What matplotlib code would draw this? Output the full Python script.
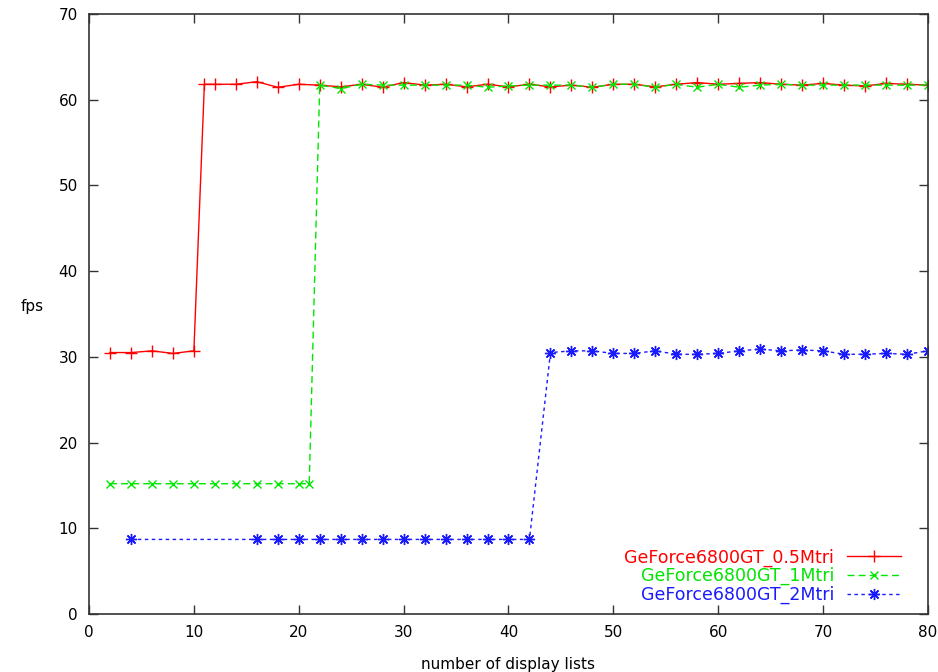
import matplotlib.pyplot as plt

# fps vs number of display lists, three scene sizes
x_05 = [2, 4, 6, 8, 10, 11, 12, 14, 16, 18, 20, 22, 24, 26, 28, 30, 32, 34, 36, 38, 40,
        42, 44, 46, 48, 50, 52, 54, 56, 58, 60, 62, 64, 66, 68, 70, 72, 74, 76, 78, 80]
fps_05 = [30.5, 30.5, 30.7, 30.4, 30.7, 61.8, 61.8, 61.8, 62.1, 61.45, 61.8, 61.7, 61.5,
          61.8, 61.45, 62.0, 61.7, 61.8, 61.5, 61.8, 61.5, 61.8, 61.5, 61.7, 61.45, 61.8,
          61.8, 61.5, 61.8, 62.0, 61.8, 61.9, 62.0, 61.8, 61.7, 61.9, 61.7, 61.6, 61.9,
          61.8, 61.7]

x_1 = [2, 4, 6, 8, 10, 12, 14, 16, 18, 20, 21, 22, 24, 26, 28, 30, 32, 34, 36, 38, 40,
       42, 44, 46, 48, 50, 52, 54, 56, 58, 60, 62, 64, 66, 68, 70, 72, 74, 76, 78, 80]
fps_1 = [15.2, 15.2, 15.2, 15.2, 15.2, 15.2, 15.2, 15.2, 15.2, 15.2, 15.2, 61.7, 61.3,
         61.8, 61.7, 61.7, 61.7, 61.7, 61.7, 61.45, 61.6, 61.7, 61.7, 61.7, 61.45, 61.8,
         61.8, 61.45, 61.8, 61.45, 61.8, 61.45, 61.7, 61.8, 61.7, 61.7, 61.7, 61.7, 61.7,
         61.7, 61.7]

x_2 = [4, 16, 18, 20, 22, 24, 26, 28, 30, 32, 34, 36, 38, 40, 42, 44, 46, 48, 50, 52,
       54, 56, 58, 60, 62, 64, 66, 68, 70, 72, 74, 76, 78, 80]
fps_2 = [8.7, 8.7, 8.7, 8.7, 8.7, 8.7, 8.7, 8.7, 8.7, 8.7, 8.7, 8.7, 8.7, 8.7, 8.7,
         30.5, 30.7, 30.7, 30.4, 30.4, 30.7, 30.3, 30.3, 30.4, 30.7, 30.9, 30.7, 30.8,
         30.7, 30.3, 30.3, 30.4, 30.3, 30.7]

labels = ["GeForce6800GT_0.5Mtri", "GeForce6800GT_1Mtri", "GeForce6800GT_2Mtri"]

plt.rcParams['font.family'] = ['DejaVu Sans']

fig = plt.figure(figsize=(9.38, 6.72), dpi=100)
ax = fig.add_axes([0.0949, 0.0863, 0.8944, 0.8929])

ax.plot(x_05, fps_05, color='#ff0000', lw=1.0, marker='+', ms=9, mew=1.0,
        label=labels[0])
ax.plot(x_1, fps_1, color='#00e600', lw=1.0, ls=(0, (5, 3)), marker='x', ms=6, mew=1.0,
        label=labels[1])
ax.plot(x_2, fps_2, color='#1a1aff', lw=1.0, ls=(0, (2.5, 2.5)), marker=(8, 2, 0), ms=8,
        mew=1.0, label=labels[2])

ax.set_xlim(0, 80)
ax.set_ylim(0, 70)
ax.set_xticks(range(0, 81, 10))
ax.set_yticks(range(0, 71, 10))
ax.tick_params(direction='in', length=6.5, width=1.0, top=True, right=True,
               labelsize=11, pad=8, color='#333333')
for sp in ax.spines.values():
    sp.set_linewidth(1.2)
    sp.set_color('#333333')

ax.set_xlabel("number of display lists", fontsize=11, labelpad=12)
ax.set_ylabel("fps", fontsize=11, rotation=0)
ax.yaxis.set_label_coords(-0.068, 0.5)

# legend text right-aligned, samples on the right like gnuplot
leg = ax.legend(loc='lower right', bbox_to_anchor=(0.976, 0.005), borderaxespad=0,
                frameon=False, markerfirst=False, fontsize=12.5,
                labelcolor='linecolor', handlelength=3.1, handletextpad=0.75,
                labelspacing=0.02)

fig.savefig("out.png", dpi=100)
